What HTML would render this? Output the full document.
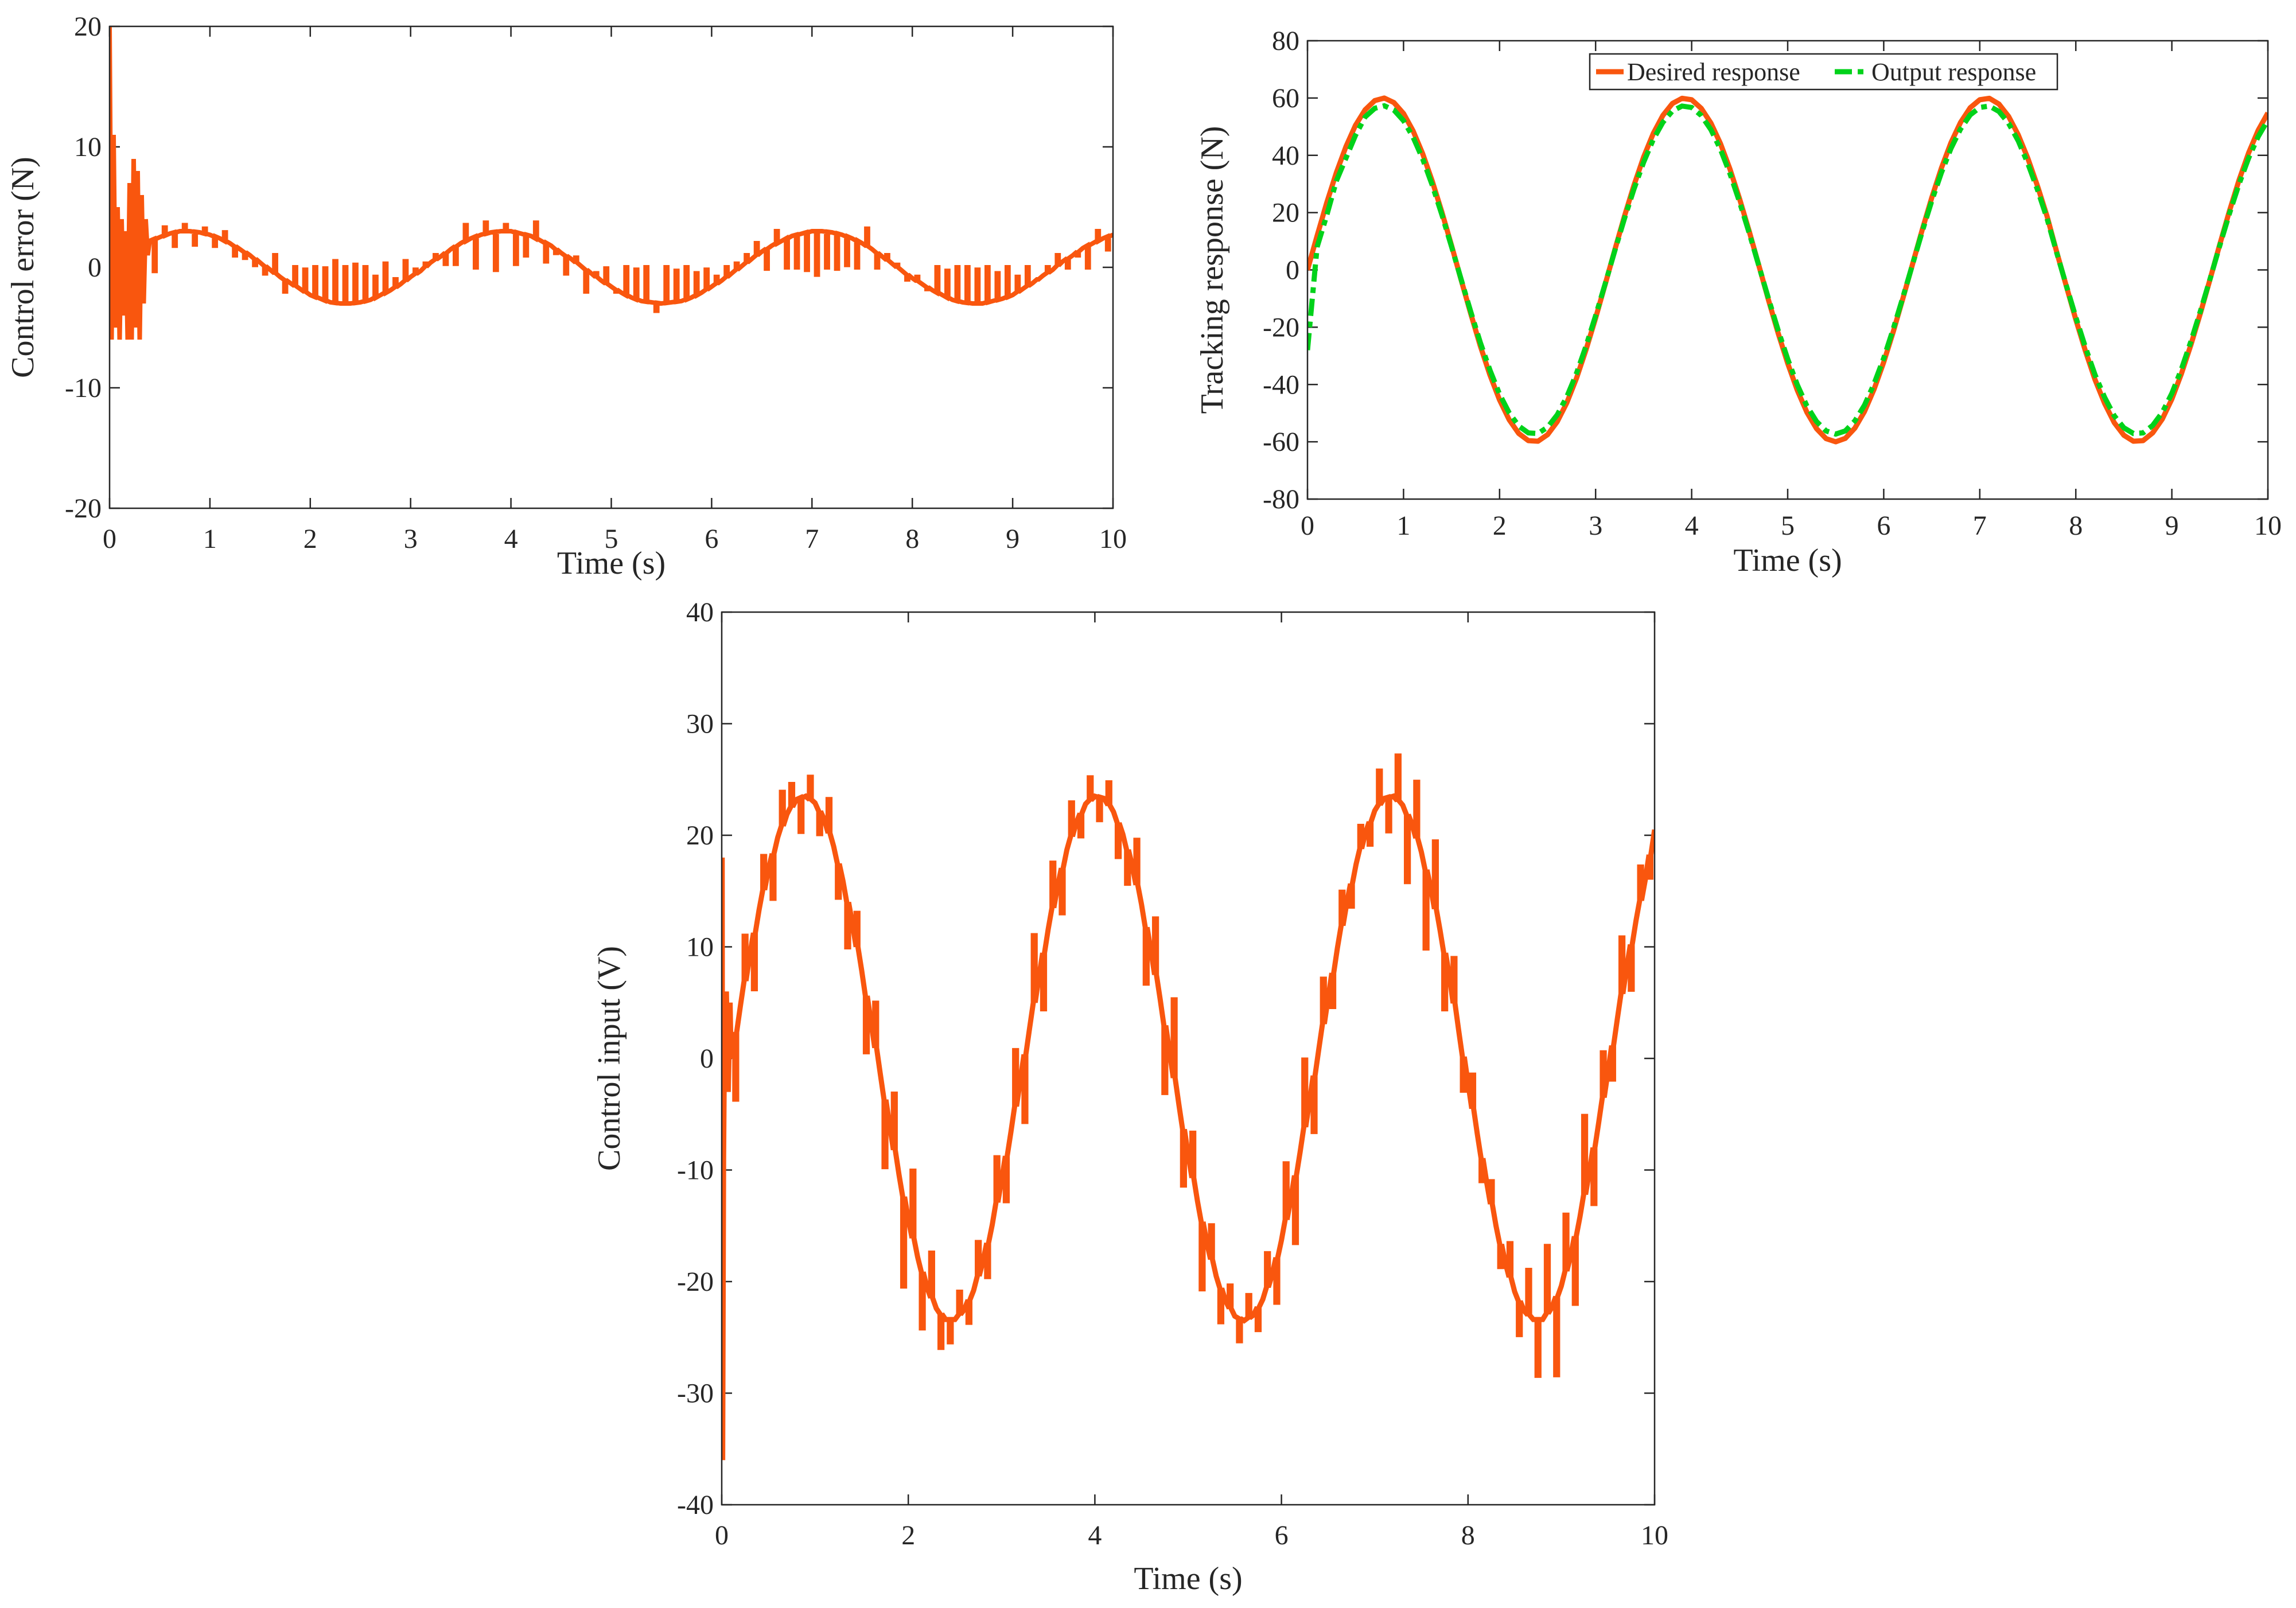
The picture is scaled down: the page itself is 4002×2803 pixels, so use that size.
<!DOCTYPE html>
<html><head><meta charset="utf-8">
<style>
html,body{margin:0;padding:0;background:#fff;}
svg{display:block;}
text{font-family:"Liberation Serif",serif;fill:#262626;}
</style></head>
<body>
<svg id="fig" width="4002" height="2803" viewBox="0 0 4002 2803" xmlns="http://www.w3.org/2000/svg">
<rect width="4002" height="2803" fill="#fff"/>
</svg>
<script>
// ---- shared time axis ----
const timeTicks = [0,1,2,3,4,5,6,7,8,9,10];
const timeTicksEven = [0,2,4,6,8,10];
const tStep = 0.1;
// ---- tracking response (N), sampled every 0.1 s ----
const desiredResp = [0,11.9,23.4,33.9,43.0,50.5,55.9,59.1,60.0,58.4,54.6,48.5,40.5,30.9,20.1,8.5,-3.5,-15.3,-26.6,-36.7,-45.4,-52.3,-57.1,-59.6,-59.8,-57.5,-53.0,-46.4,-37.9,-27.9,-16.8,-5.0,7.0,18.7,29.6,39.4,47.6,53.9,58.1,59.9,59.4,56.4,51.3,44.1,35.1,24.7,13.4,1.5,-10.5,-22.0,-32.6,-42.0,-49.7,-55.4,-58.9,-60.0,-58.8,-55.2,-49.4,-41.6,-32.2,-21.5,-9.9,2.0,13.9,25.2,35.5,44.4,51.5,56.6,59.4,59.9,57.9,53.6,47.2,39.0,29.4,18.8,6.4,-5.5,-17.3,-28.3,-38.3,-46.6,-53.3,-57.7,-59.8,-59.6,-56.9,-52.1,-45.1,-36.2,-26.0,-14.8,-3.0,9.0,20.6,31.4,40.9,48.8,54.8];
const outputResp = [-28,8,19,31,39,47,53.4,56.4,57.3,55.8,52.1,46.3,38.7,29.5,19.2,8.1,-3.3,-14.6,-25.4,-35.0,-43.4,-49.9,-54.5,-56.9,-57.1,-54.9,-50.6,-44.3,-36.2,-26.6,-16.0,-4.8,6.7,17.9,28.3,37.6,45.5,51.5,55.5,57.2,56.7,53.9,49.0,42.1,33.5,23.6,12.8,1.4,-10.0,-21.0,-31.1,-40.1,-47.5,-52.9,-56.2,-57.3,-56.2,-52.7,-47.2,-39.7,-30.8,-20.5,-9.5,1.9,13.3,24.1,33.9,42.4,49.2,54.1,56.7,57.2,55.3,51.2,45.1,37.2,28.1,18.0,6.1,-5.3,-16.5,-27.0,-36.6,-44.5,-50.9,-55.1,-57.1,-56.9,-54.3,-49.8,-43.1,-34.6,-24.8,-14.1,-2.9,8.6,19.7,30.0,39.1,46.6,52.3];
const trackYTicks = [-80,-60,-40,-20,0,20,40,60,80];
// ---- control error (N) ----
const errInitT = [0,0.02,0.04,0.06,0.08,0.1,0.12,0.14,0.16,0.18,0.2,0.22,0.24,0.26,0.28,0.3,0.32,0.34,0.36,0.38,0.4];
const errInitV = [20,-6,11,-5,5,-6,4,-4,3,-6,7,-6,9,-5,8,-6,6,-3,4,1,2.2];
const errBase = [0,0.6,1.2,1.7,2.2,2.5,2.8,3.0,3.0,2.9,2.7,2.4,2.0,1.5,1.0,0.4,-0.2,-0.8,-1.3,-1.8,-2.3,-2.6,-2.9,-3.0,-3.0,-2.9,-2.7,-2.3,-1.9,-1.4,-0.8,-0.3,0.4,0.9,1.5,2.0,2.4,2.7,2.9,3.0,3.0,2.8,2.6,2.2,1.8,1.2,0.7,0.1,-0.5,-1.1,-1.6,-2.1,-2.5,-2.8,-2.9,-3.0,-2.9,-2.8,-2.5,-2.1,-1.6,-1.1,-0.5,0.1,0.7,1.3,1.8,2.2,2.6,2.8,3.0,3.0,2.9,2.7,2.4,2.0,1.5,0.9,0.3,-0.3,-0.9,-1.4,-1.9,-2.3,-2.7,-2.9,-3.0,-3.0,-2.8,-2.6,-2.3,-1.8,-1.3,-0.7,-0.2,0.5,1.0,1.6,2.0,2.4,2.7];
const errSpikeStart = 0.45;
const errSpikeV = [-0.3,3.3,1.8,3.5,1.9,3.2,1.8,2.9,1.0,0.8,0.2,-0.5,1.0,-2.0,0.0,-0.2,0.0,-0.1,0.5,0.0,0.2,0.0,-0.8,0.3,-1.0,0.5,-0.2,0.3,1.0,0.3,0.3,3.5,0.0,3.7,-0.2,3.5,0.3,1.0,3.7,0.5,1.2,-0.5,0.8,-2.0,-0.5,-0.1,-2.0,0.0,-0.2,0.0,-3.6,0.0,-0.3,0.0,-0.5,-0.2,-0.8,0.0,0.3,1.0,2.0,-0.1,3.0,0.0,0.0,-0.2,-0.6,0.0,-0.1,0.2,0.0,3.2,0.0,1.0,0.2,-1.0,-0.8,-1.8,0.0,-0.3,0.0,0.0,-0.2,0.0,-0.5,0.0,-0.8,0.0,-1.0,0.0,1.0,0.0,1.0,0.0,3.0,1.5];
const errYTicks = [-20,-10,0,10,20];
// ---- control input (V) ----
const uInitT = [0,0.005,0.01,0.02,0.03,0.05,0.07,0.09,0.1];
const uInitV = [0,18,-36,-9,2,6,-3,5,0];
const uBase = [0,0,4.7,9.2,13.3,16.9,19.8,21.9,23.2,23.5,22.9,21.4,19.0,15.9,12.1,7.9,3.3,-1.4,-6.0,-10.4,-14.4,-17.8,-20.5,-22.4,-23.4,-23.4,-22.5,-20.8,-18.2,-14.9,-10.9,-6.6,-2.0,2.7,7.3,11.6,15.4,18.7,21.1,22.8,23.5,23.3,22.1,20.1,17.3,13.8,9.7,5.3,0.6,-4.1,-8.6,-12.8,-16.5,-19.5,-21.7,-23.1,-23.5,-23.0,-21.6,-19.4,-16.3,-12.6,-8.4,-3.9,0.8,5.4,9.9,13.9,17.4,20.2,22.2,23.3,23.5,22.7,21.0,18.5,15.3,11.5,7.4,2.5,-2.2,-6.8,-11.1,-15.0,-18.3,-20.9,-22.6,-23.4,-23.4,-22.3,-20.4,-17.7,-14.2,-10.2,-5.8,-1.2,3.5,8.1,12.3,16.0,20.5];
const uSpikeStart = 0.15;
const uSpikeDev = [-6,4,-5,3,-4,3,2,-3,2,-2,3,-3,-4,3,-5,4,-6,5,-8,6,-5,4,-3,-2,2,-2,3,-3,4,-4,5,-6,6,-5,4,-4,3,-2,2,-2,2,-3,-3,4,-5,5,-6,7,-5,4,-6,3,-3,2,-2,2,-2,3,-4,5,-6,6,-5,4,-3,3,-2,2,-2,3,-3,4,-6,5,-7,6,-5,4,-3,3,-2,2,-2,3,-3,4,-5,6,-7,5,-6,7,-5,4,-3,5,-4,3,-2];
const uYTicks = [-40,-30,-20,-10,0,10,20,30,40];

const NS = "http://www.w3.org/2000/svg";
const svg = document.getElementById('fig');
const ORANGE = "#F9560E", GREEN = "#00D21A", AX = "#262626";
function mk(tag, attrs, parent){
  const e = document.createElementNS(NS, tag);
  for (const k in attrs) e.setAttribute(k, attrs[k]);
  (parent||svg).appendChild(e);
  return e;
}
function makeAxes(box, yMin, yMax, xTicks, yTicks, xTitle, yTitle, prefix, titleY, yTitleX, tickY){
  const g = mk('g', {});
  
  
  const sx = t => box.x0 + (t/10)*(box.x1-box.x0);
  const sy = v => box.y1 - (v-yMin)/(yMax-yMin)*(box.y1-box.y0);
  const L = 18;
  xTicks.forEach(t=>{
    const x = sx(t);
    const a = mk('line',{x1:x,x2:x,y1:box.y1,y2:box.y1-L,stroke:AX,'stroke-width':2.5},g);
    
    
    mk('line',{x1:x,x2:x,y1:box.y0,y2:box.y0+L,stroke:AX,'stroke-width':2.5},g);
    const tx = mk('text',{x:x,y:tickY,'font-size':48,'text-anchor':'middle'},g);
    tx.textContent = t;
    
    
  });
  yTicks.forEach(v=>{
    const y = sy(v);
    mk('line',{x1:box.x0,x2:box.x0+L,y1:y,y2:y,stroke:AX,'stroke-width':2.5},g);
    mk('line',{x1:box.x1,x2:box.x1-L,y1:y,y2:y,stroke:AX,'stroke-width':2.5},g);
    const tx = mk('text',{x:box.x0-14,y:y+16,'font-size':48,'text-anchor':'end'},g);
    tx.textContent = v;
    
    
  });
  const xt = mk('text',{x:(box.x0+box.x1)/2,y:titleY,'font-size':56,'text-anchor':'middle'},g);
  xt.textContent = xTitle;
  
  
  const yc = (box.y0+box.y1)/2;
  const yt = mk('text',{x:yTitleX,y:yc,'font-size':56,'text-anchor':'middle',transform:`rotate(-90 ${yTitleX} ${yc})`},g);
  yt.textContent = yTitle;
  
  
  const cid = prefix + '-clip';
  const cp = mk('clipPath',{id:cid});
  mk('rect',{x:box.x0,y:box.y0,width:box.x1-box.x0,height:box.y1-box.y0},cp);
  const data = mk('g',{'clip-path':`url(#${cid})`});
  
  
  return {sx, sy, g, data, box};
}
function frame(ax, prefix){
  const b = ax.box;
  const r = mk('rect',{x:b.x0,y:b.y0,width:b.x1-b.x0,height:b.y1-b.y0,fill:'none',stroke:AX,'stroke-width':2.5});
  
  
}
function baseAt(arr, t){
  const k = t/tStep, i = Math.floor(k), f = k - i;
  if (i >= arr.length-1) return arr[arr.length-1];
  return arr[i]*(1-f) + arr[i+1]*f;
}

// ===== Plot 1: control error =====
{
  const ax = makeAxes({x0:191,x1:1940,y0:46,y1:886}, -20, 20, timeTicks, errYTicks, 'Time (s)', 'Control error (N)', 'error', 1000, 58, 955);
  let pts = errInitT.map((t,i)=>[ax.sx(t), ax.sy(errInitV[i])]);
  const spikes = errSpikeV.map((v,j)=>({t: errSpikeStart + j*tStep, v}));
  let si = 0;
  const hw = 0.008;
  for (let k = 4; k < errBase.length; k++){
    const t = k*tStep;
    while (si < spikes.length && spikes[si].t < t){
      const s = spikes[si], b = baseAt(errBase, s.t);
      pts.push([ax.sx(s.t-hw), ax.sy(b)], [ax.sx(s.t-hw), ax.sy(s.v)], [ax.sx(s.t+hw), ax.sy(s.v)], [ax.sx(s.t+hw), ax.sy(b)]);
      si++;
    }
    pts.push([ax.sx(t), ax.sy(errBase[k])]);
  }
  const pl = mk('polyline',{points:pts.map(p=>p.join(',')).join(' '),fill:'none',stroke:ORANGE,'stroke-width':8,'stroke-linejoin':'miter','stroke-miterlimit':2}, ax.data);
  
  
  frame(ax, 'error');
}

// ===== Plot 2: tracking response =====
{
  const ax = makeAxes({x0:2279,x1:3953,y0:71,y1:870}, -80, 80, timeTicks, trackYTicks, 'Time (s)', 'Tracking response (N)', 'tracking', 995, 2131, 932);
  const p1 = desiredResp.map((v,k)=>ax.sx(k*tStep)+','+ax.sy(v)).join(' ');
  const l1 = mk('polyline',{points:p1,fill:'none',stroke:ORANGE,'stroke-width':9,'stroke-linejoin':'round'}, ax.data);
  
  
  const p2 = outputResp.map((v,k)=>ax.sx(k*tStep)+','+ax.sy(v)).join(' ');
  const l2 = mk('polyline',{points:p2,fill:'none',stroke:GREEN,'stroke-width':9,'stroke-dasharray':'30 10 10 10'}, ax.data);
  
  
  frame(ax, 'tracking');
  const lg = mk('g',{});
  
  
  mk('rect',{x:2771,y:94,width:815,height:62,fill:'#fff',stroke:AX,'stroke-width':2.5},lg);
  const e1 = mk('g',{},lg);
  
  
  mk('line',{x1:2782,x2:2830,y1:125,y2:125,stroke:ORANGE,'stroke-width':9},e1);
  const t1 = mk('text',{x:2836,y:140,'font-size':44},e1); t1.textContent='Desired response';
  const e2 = mk('g',{},lg);
  
  
  mk('line',{x1:3198,x2:3258,y1:125,y2:125,stroke:GREEN,'stroke-width':9,'stroke-dasharray':'30 10 10 10'},e2);
  const t2 = mk('text',{x:3262,y:140,'font-size':44},e2); t2.textContent='Output response';
}

// ===== Plot 3: control input =====
{
  const ax = makeAxes({x0:1258,x1:2884,y0:1067,y1:2623}, -40, 40, timeTicksEven, uYTicks, 'Time (s)', 'Control input (V)', 'input', 2770, 1080, 2692);
  let pts = uInitT.map((t,i)=>[ax.sx(t), ax.sy(uInitV[i])]);
  const spikes = uSpikeDev.map((d,j)=>({t: uSpikeStart + j*tStep, d}));
  let si = 0;
  const hw = 0.01;
  for (let k = 1; k < uBase.length; k++){
    const t = k*tStep;
    while (si < spikes.length && spikes[si].t < t){
      const s = spikes[si], b = baseAt(uBase, s.t);
      pts.push([ax.sx(s.t-hw), ax.sy(b)], [ax.sx(s.t-hw), ax.sy(b+s.d)], [ax.sx(s.t+hw), ax.sy(b+s.d)], [ax.sx(s.t+hw), ax.sy(b)]);
      si++;
    }
    pts.push([ax.sx(t), ax.sy(uBase[k])]);
  }
  const pl = mk('polyline',{points:pts.map(p=>p.join(',')).join(' '),fill:'none',stroke:ORANGE,'stroke-width':9,'stroke-linejoin':'miter','stroke-miterlimit':2}, ax.data);
  
  
  frame(ax, 'input');
}
</script>
</body></html>
